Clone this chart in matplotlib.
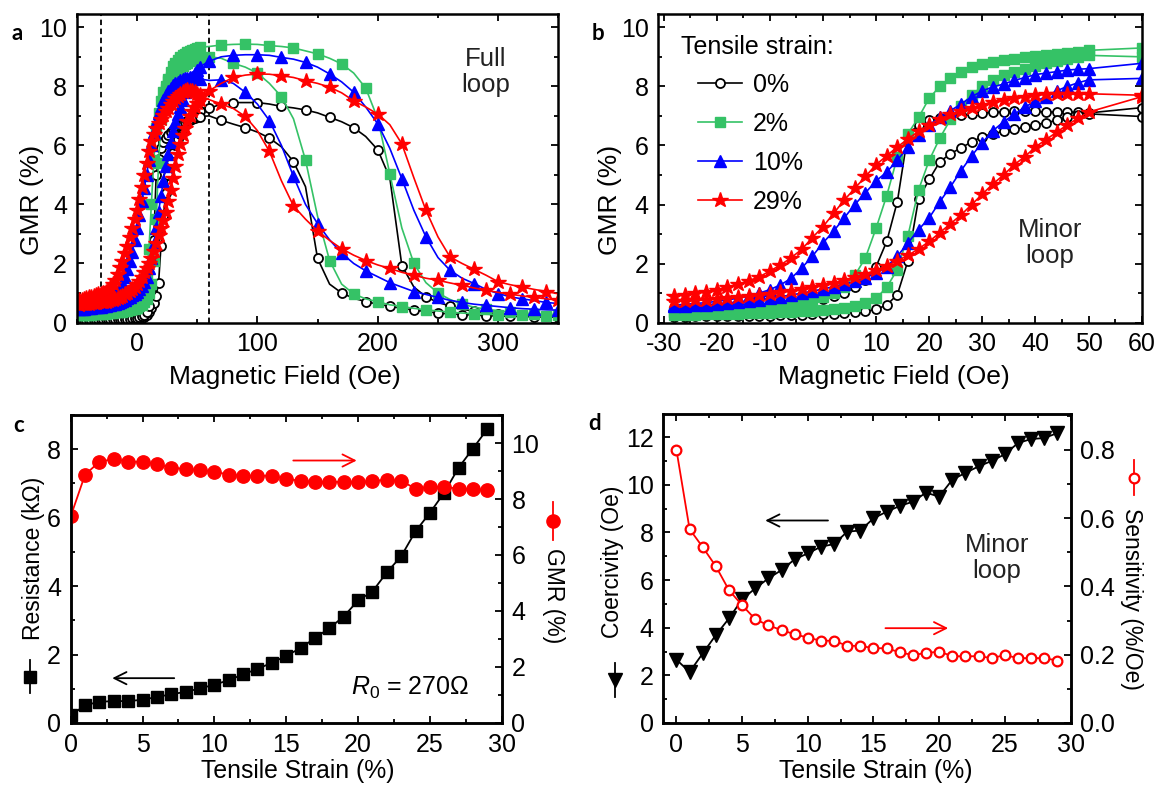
import matplotlib
matplotlib.use('Agg')
import matplotlib.pyplot as plt
from matplotlib.lines import Line2D
from matplotlib.ticker import MultipleLocator, FormatStrFormatter

plt.rcParams['font.family'] = ['Liberation Sans', 'DejaVu Sans']
plt.rcParams['mathtext.fontset'] = 'custom'
plt.rcParams['mathtext.rm'] = 'Liberation Sans'
plt.rcParams['mathtext.it'] = 'Liberation Sans:italic'
plt.rcParams['axes.unicode_minus'] = False

# ---------------- data ----------------
STRAIN_LABELS = ['0%', '2%', '10%', '29%']

# panel a: full loop (dense low-field part, then the high-field part)
FIELD_A = [-48, -46, -44, -42, -40, -38, -36, -34, -32, -30,
           -28, -26, -24, -22, -20, -18, -16, -14, -12, -10,
           -8, -6, -4, -2, 0, 2, 4, 6, 8, 10,
           12, 14, 16, 18, 20, 22, 24, 26, 28, 30,
           32, 34, 36, 38, 40, 42, 44, 46, 48, 50,
           52,
           60, 70, 80, 90, 100, 110, 120, 130, 140, 150, 160, 170, 180, 190, 200, 210, 220, 230,
           240, 250, 260, 270, 280, 290, 300, 310, 320, 330, 340, 350, 360]

A_BLACK_UP = [0.08, 0.08, 0.08, 0.08, 0.08, 0.08, 0.08, 0.09, 0.09, 0.09,
              0.09, 0.09, 0.09, 0.1, 0.1, 0.1, 0.1, 0.1, 0.1, 0.11,
              0.11, 0.12, 0.12, 0.13, 0.13, 0.14, 0.16, 0.2, 0.25, 0.35,
              0.5, 0.65, 0.9, 1.35, 2.6, 3.6, 4.4, 5.0, 5.4, 5.75,
              6.0, 6.2, 6.4, 6.55, 6.7, 6.8, 6.9, 6.98, 7.05, 7.1,
              7.15,
              7.25, 7.4, 7.45, 7.45, 7.45, 7.4, 7.32, 7.27, 7.2, 7.1, 6.95, 6.8, 6.6, 6.3, 5.85, 4.9,
              1.93, 1.2, 0.87, 0.68, 0.56, 0.45, 0.38, 0.33, 0.3, 0.27, 0.25, 0.23, 0.22, 0.21, 0.2]
A_BLACK_DOWN = [0.1, 0.1, 0.1, 0.1, 0.1, 0.1, 0.1, 0.1, 0.11, 0.11,
                0.11, 0.11, 0.11, 0.12, 0.12, 0.12, 0.12, 0.12, 0.12, 0.13,
                0.13, 0.13, 0.14, 0.15, 0.16, 0.18, 0.22, 0.27, 0.35, 0.55,
                1.1, 2.8, 5.0, 5.55, 5.9, 6.1, 6.25, 6.35, 6.45, 6.53,
                6.6, 6.65, 6.7, 6.75, 6.8, 6.84, 6.87, 6.9, 6.93, 6.95,
                6.97,
                7.0, 6.85, 6.72, 6.6, 6.45, 6.25, 5.95, 5.45, 4.6, 2.17, 1.3, 1.0, 0.82, 0.71, 0.62,
                0.55, 0.48, 0.42, 0.37, 0.32, 0.29, 0.27, 0.25, 0.23, 0.22, 0.21, 0.2, 0.19, 0.18,
                0.18, 0.17]
A_GREEN_UP = [0.25, 0.25, 0.26, 0.26, 0.27, 0.27, 0.28, 0.28, 0.29, 0.29,
              0.3, 0.3, 0.31, 0.32, 0.33, 0.34, 0.35, 0.36, 0.37, 0.38,
              0.4, 0.42, 0.45, 0.47, 0.5, 0.55, 0.6, 0.68, 0.8, 1.0,
              1.3, 2.1, 3.5, 5.4, 6.9, 7.5, 7.9, 8.25, 8.5, 8.68,
              8.8, 8.9, 9.0, 9.05, 9.1, 9.15, 9.2, 9.24, 9.27, 9.3,
              9.32,
              9.35, 9.4, 9.42, 9.43, 9.42, 9.38, 9.35, 9.3, 9.2, 9.1, 8.95, 8.76, 8.45, 7.94, 6.9,
              5.04, 3.2, 2.0, 1.35, 1.0, 0.78, 0.62, 0.52, 0.45, 0.4, 0.35, 0.32, 0.3, 0.28, 0.27,
              0.26]
A_GREEN_DOWN = [0.3, 0.3, 0.31, 0.31, 0.32, 0.32, 0.33, 0.33, 0.34, 0.34,
                0.35, 0.36, 0.37, 0.38, 0.39, 0.4, 0.41, 0.42, 0.44, 0.47,
                0.5, 0.55, 0.6, 0.67, 0.75, 0.86, 1.0, 1.25, 1.6, 2.5,
                4.0, 5.5, 6.6, 7.1, 7.5, 7.8, 8.0, 8.17, 8.3, 8.4,
                8.5, 8.58, 8.65, 8.7, 8.75, 8.8, 8.85, 8.89, 8.92, 8.95,
                8.97,
                9.0, 8.95, 8.78, 8.65, 8.45, 8.1, 7.65, 6.9, 5.5, 3.6, 2.1, 1.3, 0.97, 0.8, 0.7,
                0.6, 0.54, 0.48, 0.43, 0.39, 0.35, 0.32, 0.3, 0.28, 0.27, 0.26, 0.25, 0.24, 0.23,
                0.23, 0.22]
A_BLUE_UP = [0.45, 0.46, 0.47, 0.48, 0.49, 0.5, 0.51, 0.52, 0.53, 0.54,
             0.55, 0.56, 0.58, 0.6, 0.62, 0.64, 0.67, 0.7, 0.73, 0.77,
             0.82, 0.87, 0.92, 0.98, 1.05, 1.14, 1.25, 1.38, 1.55, 1.83,
             2.2, 2.65, 3.2, 3.75, 4.3, 4.8, 5.3, 5.72, 6.1, 6.47,
             6.8, 7.05, 7.3, 7.55, 7.8, 8.0, 8.15, 8.3, 8.45, 8.55,
             8.65,
             8.85, 9.0, 9.05, 9.07, 9.07, 9.05, 8.98, 8.92, 8.81, 8.65, 8.42, 8.15, 7.8, 7.3, 6.73,
             5.9, 4.87, 3.8, 2.9, 2.2, 1.77, 1.5, 1.32, 1.12, 0.98, 0.87, 0.8, 0.74, 0.68, 0.64,
             0.6]
A_BLUE_DOWN = [0.5, 0.51, 0.53, 0.54, 0.56, 0.58, 0.6, 0.62, 0.65, 0.67,
               0.7, 0.74, 0.78, 0.83, 0.88, 0.95, 1.05, 1.18, 1.35, 1.55,
               1.8, 2.08, 2.4, 2.78, 3.2, 3.65, 4.1, 4.55, 5.0, 5.5,
               6.0, 6.45, 6.8, 7.08, 7.3, 7.52, 7.7, 7.84, 7.95, 8.03,
               8.1, 8.15, 8.2, 8.24, 8.27, 8.29, 8.3, 8.29, 8.28, 8.27,
               8.25,
               8.2, 8.22, 8.1, 7.8, 7.4, 6.84, 6.0, 4.95, 4.0, 3.35, 2.8, 2.35, 2.0, 1.75, 1.55,
               1.35, 1.2, 1.05, 0.95, 0.85, 0.75, 0.68, 0.62, 0.58, 0.54, 0.5, 0.47, 0.45, 0.43,
               0.42, 0.41]
A_RED_UP = [0.6, 0.61, 0.62, 0.63, 0.64, 0.65, 0.66, 0.67, 0.68, 0.69,
            0.7, 0.71, 0.73, 0.75, 0.77, 0.8, 0.83, 0.86, 0.9, 0.95,
            1.0, 1.06, 1.12, 1.2, 1.3, 1.42, 1.55, 1.7, 1.85, 2.02,
            2.2, 2.43, 2.7, 2.95, 3.2, 3.47, 3.75, 4.1, 4.5, 4.9,
            5.3, 5.7, 6.05, 6.35, 6.6, 6.82, 7.0, 7.15, 7.3, 7.43,
            7.55,
            7.85, 8.1, 8.3, 8.38, 8.42, 8.41, 8.36, 8.3, 8.19, 8.1, 7.97, 7.78, 7.51, 7.3, 7.06,
            6.7, 6.05, 4.9, 3.8, 2.9, 2.22, 2.0, 1.8, 1.6, 1.38, 1.28, 1.2, 1.12, 1.05, 0.97, 0.92]
A_RED_DOWN = [0.75, 0.77, 0.8, 0.82, 0.85, 0.87, 0.9, 0.92, 0.95, 0.97,
              1.0, 1.05, 1.1, 1.18, 1.3, 1.45, 1.65, 1.87, 2.1, 2.35,
              2.6, 2.9, 3.2, 3.5, 3.8, 4.2, 4.6, 5.0, 5.4, 5.8,
              6.15, 6.4, 6.6, 6.75, 6.9, 7.03, 7.15, 7.28, 7.4, 7.5,
              7.6, 7.68, 7.75, 7.8, 7.85, 7.86, 7.85, 7.83, 7.8, 7.75,
              7.7,
              7.55, 7.4, 7.25, 6.98, 6.5, 5.8, 4.8, 3.95, 3.5, 3.1, 2.78, 2.5, 2.28, 2.1, 1.95,
              1.83, 1.7, 1.6, 1.5, 1.43, 1.34, 1.26, 1.17, 1.09, 1.02, 0.96, 0.9, 0.85, 0.8, 0.76,
              0.72]

# panel b: minor loop
FIELD_B = [-28, -26, -24, -22, -20, -18, -16, -14, -12, -10, -8, -6, -4, -2, 0, 2, 4, 6, 8, 10,
           12, 14, 16, 18, 20, 22, 24, 26, 28, 30, 32, 34, 36, 38, 40, 42, 44, 46, 48, 50, 60]

B_BLACK_L = [0.25, 0.26, 0.27, 0.28, 0.3, 0.32, 0.34, 0.36, 0.39, 0.42, 0.46, 0.52, 0.6, 0.7, 0.8,
             0.9, 1.02, 1.2, 1.45, 1.9, 2.75, 4.1, 6.4, 6.68, 6.85, 6.92, 6.97, 7.02, 7.07, 7.1,
             7.12, 7.13, 7.15, 7.18, 7.15, 7.13, 7.13, 7.13, 7.12, 7.1, 7.28]
B_BLACK_R = [0.2, 0.2, 0.21, 0.21, 0.22, 0.22, 0.23, 0.23, 0.24, 0.24, 0.25, 0.26, 0.27, 0.28, 0.29,
             0.31, 0.33, 0.35, 0.38, 0.45, 0.6, 0.95, 2.1, 4.2, 4.85, 5.45, 5.72, 5.92, 6.12, 6.3,
             6.4, 6.48, 6.55, 6.62, 6.7, 6.77, 6.85, 6.95, 7.03, 7.07, 6.98]
B_GREEN_L = [0.35, 0.36, 0.37, 0.38, 0.4, 0.42, 0.44, 0.47, 0.5, 0.54, 0.58, 0.63, 0.7, 0.78, 0.88,
             1.0, 1.2, 1.6, 2.2, 3.2, 4.3, 5.6, 6.4, 6.95, 7.6, 8.0, 8.3, 8.5, 8.65, 8.75,
             8.82, 8.88, 8.93, 8.98, 9.02, 9.06, 9.1, 9.14, 9.18, 9.22, 9.3]
B_GREEN_R = [0.25, 0.26, 0.27, 0.28, 0.29, 0.3, 0.31, 0.32, 0.33, 0.34, 0.35, 0.37, 0.39, 0.41, 0.43,
             0.46, 0.5, 0.56, 0.65, 0.82, 1.2, 1.8, 2.95, 4.5, 5.5, 6.25, 6.88, 7.35, 7.72, 8.0,
             8.2, 8.37, 8.5, 8.6, 8.7, 8.78, 8.85, 8.92, 8.98, 9.05, 9.0]
B_BLUE_L = [0.6, 0.62, 0.65, 0.68, 0.72, 0.77, 0.83, 0.9, 1.0, 1.12, 1.28, 1.5, 1.85, 2.25, 2.7,
            3.1, 3.55, 4.0, 4.4, 4.8, 5.1, 5.5, 5.95, 6.35, 6.7, 6.95, 7.18, 7.4, 7.65, 7.85,
            7.98, 8.08, 8.2, 8.3, 8.4, 8.45, 8.5, 8.55, 8.58, 8.6, 8.78]
B_BLUE_R = [0.55, 0.57, 0.59, 0.61, 0.64, 0.67, 0.7, 0.74, 0.78, 0.83, 0.88, 0.94, 1.0, 1.07, 1.14,
            1.22, 1.3, 1.4, 1.52, 1.68, 1.9, 2.25, 2.7, 3.15, 3.55, 4.1, 4.6, 5.15, 5.65, 6.1,
            6.5, 6.8, 7.05, 7.3, 7.5, 7.65, 7.85, 8.0, 8.12, 8.22, 8.27]
B_RED_L = [0.92, 0.95, 1.0, 1.05, 1.12, 1.2, 1.3, 1.42, 1.55, 1.75, 1.95, 2.2, 2.48, 2.88, 3.25,
           3.7, 4.15, 4.55, 4.95, 5.35, 5.65, 5.95, 6.22, 6.48, 6.7, 6.9, 7.05, 7.18, 7.28, 7.38,
           7.47, 7.54, 7.6, 7.65, 7.7, 7.73, 7.75, 7.75, 7.75, 7.75, 7.7]
B_RED_R = [0.72, 0.74, 0.76, 0.78, 0.8, 0.83, 0.86, 0.9, 0.94, 0.98, 1.03, 1.08, 1.14, 1.2, 1.27,
           1.35, 1.44, 1.54, 1.65, 1.78, 1.93, 2.1, 2.28, 2.5, 2.75, 3.05, 3.35, 3.65, 4.0, 4.35,
           4.7, 5.0, 5.35, 5.62, 5.95, 6.2, 6.45, 6.7, 6.92, 7.13, 7.65]

# panels c and d: versus tensile strain
STRAIN = [0, 1, 2, 3, 4, 5, 6, 7, 8, 9, 10, 11, 12, 13, 14, 15, 16, 17, 18, 19, 20, 21, 22, 23,
          24, 25, 26, 27, 28, 29]
RESISTANCE = [0.22, 0.52, 0.62, 0.64, 0.64, 0.68, 0.76, 0.84, 0.91, 1.01, 1.12, 1.25, 1.42, 1.58,
              1.76, 1.96, 2.19, 2.48, 2.77, 3.11, 3.58, 3.84, 4.40, 4.87, 5.60, 6.14, 6.73, 7.46,
              8.02, 8.59]
GMR_STRAIN = [7.38, 8.87, 9.33, 9.43, 9.33, 9.33, 9.24, 9.12, 9.07, 9.03, 8.98, 8.87, 8.83, 8.83,
              8.83, 8.72, 8.65, 8.61, 8.61, 8.61, 8.59, 8.65, 8.68, 8.65, 8.37, 8.43, 8.43, 8.37,
              8.35, 8.32]
COERCIVITY = [2.66, 2.14, 2.92, 3.69, 4.39, 5.19, 5.65, 6.07, 6.42, 6.87, 7.12, 7.40, 7.51, 8.03,
              8.08, 8.59, 8.87, 9.11, 9.29, 9.67, 9.50, 10.21, 10.5, 10.77, 11.0, 11.28, 11.75,
              11.92, 11.96, 12.17]
SENSITIVITY = [0.80, 0.568, 0.515, 0.459, 0.389, 0.345, 0.304, 0.286, 0.272, 0.260, 0.250, 0.241,
               0.241, 0.226, 0.226, 0.219, 0.219, 0.207, 0.199, 0.205, 0.209, 0.196, 0.195, 0.196,
               0.19, 0.199, 0.19, 0.19, 0.19, 0.183]

# ---------------- styles ----------------
GREEN = '#35c266'
STYLE = {
    '0%': dict(color='black', marker='o', mfc='white', mec='black', ms=6.5, mew=1.3),
    '2%': dict(color=GREEN, marker='s', mfc=GREEN, mec=GREEN, ms=6.5, mew=1.0),
    '10%': dict(color='blue', marker='^', mfc='blue', mec='blue', ms=8, mew=1.0),
    '29%': dict(color='red', marker='*', mfc='red', mec='red', ms=11.5, mew=1.0),
}
TICK_FS = 18
LABEL_FS = 19

W, H = 1157, 785
fig = plt.figure(figsize=(W / 100, H / 100), dpi=100)


def px_rect(l, t, r, b):
    return [l / W, 1 - b / H, (r - l) / W, (b - t) / H]


def fig_xy(x, y):
    return x / W, 1 - y / H


def style_axes(ax, right=True, top=True):
    for s in ax.spines.values():
        s.set_linewidth(1.8)
    ax.tick_params(which='both', direction='in', top=top, right=right, labelsize=TICK_FS,
                   width=1.3, pad=7)
    ax.tick_params(which='major', length=5)
    ax.tick_params(which='minor', length=3)


def side_label(text, x, y, rot, fs):
    fx, fy = fig_xy(x, y)
    fig.text(fx, fy, text, rotation=rot, ha='center', va='center', fontsize=fs)


def side_glyph(x, y0, y1, **kw):
    xs = [x / W] * 3
    ys = [1 - y0 / H, 1 - (y0 + y1) / 2 / H, 1 - y1 / H]
    fig.add_artist(Line2D(xs, ys, transform=fig.transFigure, lw=1.3, markevery=[1], **kw))


# ---------------- panel a ----------------
ax_a = fig.add_axes(px_rect(76.7, 14, 558.4, 322.5))
style_axes(ax_a)
full_loop = {
    '0%': [(A_BLACK_UP, 0), (A_BLACK_DOWN, 10)],
    '2%': [(A_GREEN_UP, 10), (A_GREEN_DOWN, 0)],
    '10%': [(A_BLUE_UP, 0), (A_BLUE_DOWN, 10)],
    '29%': [(A_RED_UP, 0), (A_RED_DOWN, 10)],
}
for lab in STRAIN_LABELS:
    for gmr, off in full_loop[lab]:
        idx = [i for i, f in enumerate(FIELD_A) if f <= 52 or (f - off) % 20 == 0]
        ax_a.plot(FIELD_A, gmr, lw=1.2, markevery=idx, **STYLE[lab])
for xv in (-30, 60):
    ax_a.axvline(xv, color='black', lw=1.3, ls=(0, (3, 2)), zorder=0)
ax_a.set_xlim(-50, 350)
ax_a.set_ylim(0, 10.45)
ax_a.xaxis.set_major_locator(MultipleLocator(100))
ax_a.xaxis.set_minor_locator(MultipleLocator(50))
ax_a.yaxis.set_major_locator(MultipleLocator(2))
ax_a.yaxis.set_minor_locator(MultipleLocator(1))
ax_a.text(289.6, 8.5, 'Full\nloop', ha='center', va='center', fontsize=18.5,
          linespacing=1.1, color='#222222')

# ---------------- panel b ----------------
ax_b = fig.add_axes(px_rect(658.3, 14, 1141.7, 322.7))
style_axes(ax_b)
minor_loop = {
    '0%': (B_BLACK_L, B_BLACK_R),
    '2%': (B_GREEN_L, B_GREEN_R),
    '10%': (B_BLUE_L, B_BLUE_R),
    '29%': (B_RED_L, B_RED_R),
}
for lab in STRAIN_LABELS:
    left, right = minor_loop[lab]
    ax_b.plot(FIELD_B, left, lw=1.2, label=lab, **STYLE[lab])
    ax_b.plot(FIELD_B, right, lw=1.2, **STYLE[lab])
ax_b.set_xlim(-31, 60)
ax_b.set_ylim(0, 10.45)
ax_b.xaxis.set_major_locator(MultipleLocator(10))
ax_b.xaxis.set_minor_locator(MultipleLocator(5))
ax_b.yaxis.set_major_locator(MultipleLocator(2))
ax_b.yaxis.set_minor_locator(MultipleLocator(1))
ax_b.text(0.046, 0.894, 'Tensile strain:', transform=ax_b.transAxes, ha='left', va='center',
          fontsize=18)
ax_b.legend(loc='upper left', bbox_to_anchor=(0.0817, 0.81), frameon=False, fontsize=18,
            handlelength=1.77, handletextpad=0.44, labelspacing=0.6, borderpad=0,
            borderaxespad=0)
ax_b.text(42.7, 2.69, 'Minor\nloop', ha='center', va='center', fontsize=18.5,
          linespacing=1.1, color='#222222')

# ---------------- panel c ----------------
ax_c = fig.add_axes(px_rect(70.7, 415, 501.7, 723))
style_axes(ax_c, right=False)
ax_c2 = ax_c.twinx()
for s in ax_c2.spines.values():
    s.set_linewidth(1.8)
ax_c2.tick_params(which='both', direction='in', labelsize=TICK_FS, width=1.3, pad=7)
ax_c2.tick_params(which='major', length=5)
ax_c2.tick_params(which='minor', length=3)
ax_c.plot(STRAIN, RESISTANCE, color='black', lw=1.3, marker='s', ms=8.4, zorder=3)
ax_c2.plot(STRAIN, GMR_STRAIN, color='red', lw=1.3, marker='o', ms=9.6)
ax_c.set_xlim(0, 30)
ax_c.set_ylim(0, 9)
ax_c2.set_ylim(0, 11)
ax_c.xaxis.set_major_locator(MultipleLocator(5))
ax_c.xaxis.set_minor_locator(MultipleLocator(2.5))
ax_c.yaxis.set_major_locator(MultipleLocator(2))
ax_c.yaxis.set_minor_locator(MultipleLocator(1))
ax_c2.yaxis.set_major_locator(MultipleLocator(2))
ax_c2.yaxis.set_minor_locator(MultipleLocator(1))
ax_c.annotate('', xy=(20.1, 7.67), xytext=(15.3, 7.67),
              arrowprops=dict(arrowstyle='->', color='red', lw=1.3, mutation_scale=22))
ax_c.annotate('', xy=(2.7, 1.31), xytext=(7.4, 1.31),
              arrowprops=dict(arrowstyle='->', color='black', lw=1.3, mutation_scale=22))
ax_c.text(19.5, 1.03, r'$R_0$ = 270Ω', ha='left', va='center', fontsize=18)

# ---------------- panel d ----------------
ax_d = fig.add_axes(px_rect(663.3, 414, 1070.5, 723))
style_axes(ax_d, right=False)
ax_d2 = ax_d.twinx()
for s in ax_d2.spines.values():
    s.set_linewidth(1.8)
ax_d2.tick_params(which='both', direction='in', labelsize=TICK_FS, width=1.3, pad=7)
ax_d2.tick_params(which='major', length=5)
ax_d2.tick_params(which='minor', length=3)
ax_d.plot(STRAIN, COERCIVITY, color='black', lw=1.3, marker='v', ms=10.5, zorder=3)
ax_d2.plot(STRAIN, SENSITIVITY, color='red', lw=1.3, marker='o', ms=7, mfc='white', mew=1.6)
ax_d.set_xlim(-1, 30)
ax_d.set_ylim(0, 12.97)
ax_d2.set_ylim(0, 0.905)
ax_d.xaxis.set_major_locator(MultipleLocator(5))
ax_d.xaxis.set_minor_locator(MultipleLocator(2.5))
ax_d.yaxis.set_major_locator(MultipleLocator(2))
ax_d.yaxis.set_minor_locator(MultipleLocator(1))
ax_d2.yaxis.set_major_locator(MultipleLocator(0.2))
ax_d2.yaxis.set_minor_locator(MultipleLocator(0.1))
ax_d2.yaxis.set_major_formatter(FormatStrFormatter('%.1f'))
ax_d.annotate('', xy=(6.55, 8.5), xytext=(11.75, 8.5),
              arrowprops=dict(arrowstyle='->', color='black', lw=1.3, mutation_scale=22))
ax_d.annotate('', xy=(20.9, 3.98), xytext=(15.7, 3.98),
              arrowprops=dict(arrowstyle='->', color='red', lw=1.3, mutation_scale=22))
ax_d.text(24.4, 6.94, 'Minor\nloop', ha='center', va='center', fontsize=18.5,
          linespacing=1.1, color='#222222')

# ---------------- axis labels, glyphs, panel letters ----------------
side_label('GMR (%)', 32, 200, 90, LABEL_FS)
side_label('GMR (%)', 609.5, 200, 90, LABEL_FS)
side_label('Magnetic Field (Oe)', 285, 377, 0, LABEL_FS)
side_label('Magnetic Field (Oe)', 894, 377, 0, LABEL_FS)
side_label('Tensile Strain (%)', 298, 771, 0, 17.8)
side_label('Tensile Strain (%)', 876, 771, 0, 17.8)
side_label('Resistance (kΩ)', 34, 558, 90, 16.5)
side_label('GMR (%)', 553, 596, 270, 16.5)
side_label('Coercivity (Oe)', 613, 562, 90, 16.5)
side_label('Sensitivity (%/Oe)', 1132, 599, 270, 16.5)

side_glyph(30, 660, 693, color='black', marker='s', ms=8)
side_glyph(553, 502, 540, color='red', marker='o', ms=9.5)
side_glyph(615, 663, 697, color='black', marker='v', ms=10)
side_glyph(1134.3, 460, 495, color='red', marker='o', ms=7, mfc='white', mew=1.6)

for letter, x, y in [('a', 17, 34), ('b', 597.5, 33), ('c', 18.5, 425), ('d', 595, 423)]:
    fx, fy = fig_xy(x, y)
    fig.text(fx, fy, letter, ha='center', va='center', fontsize=16, fontweight='bold',
             family=['Lato', 'DejaVu Sans'])

fig.savefig('out.png', dpi=100)
